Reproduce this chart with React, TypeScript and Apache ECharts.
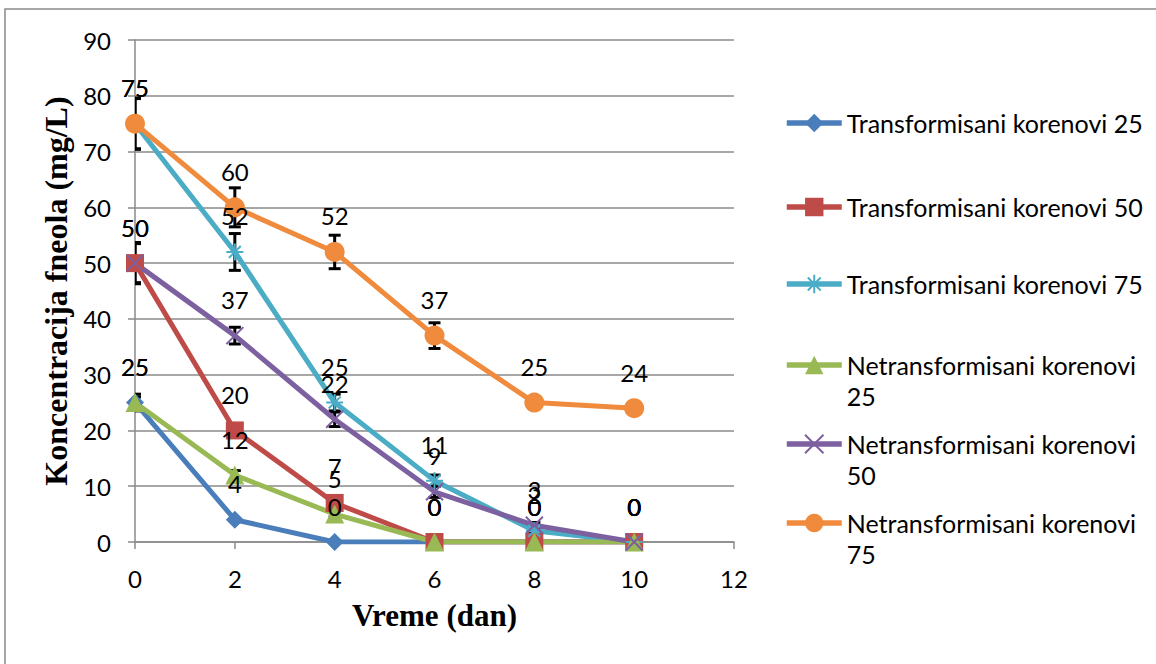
import React, { useEffect, useRef } from "react";
import * as echarts from "echarts";

const days = [0, 2, 4, 6, 8, 10];
const xTicks = [0, 2, 4, 6, 8, 10, 12];
const yTicks = [0, 10, 20, 30, 40, 50, 60, 70, 80, 90];

const seriesNames = [
  "Transformisani korenovi 25",
  "Transformisani korenovi 50",
  "Transformisani korenovi 75",
  "Netransformisani korenovi 25",
  "Netransformisani korenovi 50",
  "Netransformisani korenovi 75",
];

const tk25 = [25, 4, 0, 0, 0, 0];
const tk50 = [50, 20, 7, 0, 0, 0];
const tk75 = [75, 52, 25, 11, 2, 0];
const nk25 = [25, 12, 5, 0, 0, 0];
const nk50 = [50, 37, 22, 9, 3, 0];
const nk75 = [75, 60, 52, 37, 25, 24];

const tk25Err = [1.5, 0, 0, 0, 0, 0];
const tk50Err = [3.7, 0.8, 0.5, 0, 0, 0];
const tk75Err = [4.5, 3.3, 1.5, 1, 0.5, 0];
const nk25Err = [1, 0.8, 0.5, 0, 0, 0];
const nk50Err = [3.5, 1.5, 1.3, 1, 0.5, 0];
const nk75Err = [4.6, 3.5, 3, 2.3, 1, 0.5];

const allValues = [tk25, tk50, tk75, nk25, nk50, nk75];
const allErrors = [tk25Err, tk50Err, tk75Err, nk25Err, nk50Err, nk75Err];

const colors = ["#4A7EBB", "#BE4B48", "#4BACC6", "#98B954", "#7D60A0", "#F08A3C"];
const symbols = [
  "diamond",
  "rect",
  "path://M0,5L10,5M5,0L5,10M1.5,1.5L8.5,8.5M8.5,1.5L1.5,8.5",
  "triangle",
  "path://M0,0L10,10M10,0L0,10",
  "circle",
];
const symbolSizes = [18, 18, 17, 19, 17, 20];
const legendCenters = [123, 207, 284, 365, 444, 523];

const LABEL_FONT = "Lato, 'Noto Sans', sans-serif";
const TITLE_FONT = "'Liberation Serif', 'DejaVu Serif', serif";

export default function App() {
  const ref = useRef<HTMLDivElement>(null);

  useEffect(() => {
    if (!ref.current) return;
    const chart = echarts.init(ref.current, undefined, { renderer: "svg" });

    const lineSeries = allValues.map((vals, si) => ({
      name: seriesNames[si],
      type: "line",
      data: days.map((d, i) => [d, vals[i]]),
      symbol: symbols[si],
      symbolSize: symbolSizes[si],
      z: 3,
      lineStyle: { color: colors[si], width: 5 },
      itemStyle: {
        color: colors[si],
        borderColor: colors[si],
        borderWidth: si === 2 || si === 4 ? 2 : 0,
      },
      label: {
        show: true,
        position: "inside",
        offset: [0, -36],
        color: "#000",
        fontFamily: LABEL_FONT,
        fontSize: 24,
        formatter: (p: any) => String(p.value[1]),
      },
      emphasis: { disabled: true },
    }));

    const errData: number[][] = [];
    allValues.forEach((vals, si) => {
      vals.forEach((v, i) => {
        const e = allErrors[si][i];
        if (e > 0) errData.push([days[i], v - e, v + e]);
      });
    });

    const errorSeries = {
      name: "errors",
      type: "custom",
      z: 2,
      clip: true,
      data: errData,
      renderItem: (params: any, api: any) => {
        const x = api.value(0);
        const lo = api.value(1);
        const hi = api.value(2);
        const top = api.coord([x, hi]);
        const bot = api.coord([x, lo]);
        const hw = 6;
        const style = { stroke: "#000", lineWidth: 3 };
        return {
          type: "group",
          children: [
            { type: "line", shape: { x1: top[0], y1: top[1], x2: bot[0], y2: bot[1] }, style },
            { type: "line", shape: { x1: top[0] - hw, y1: top[1], x2: top[0] + hw, y2: top[1] }, style },
            { type: "line", shape: { x1: bot[0] - hw, y1: bot[1], x2: bot[0] + hw, y2: bot[1] }, style },
          ],
        };
      },
    };

    const legends = seriesNames.map((name, i) => {
      const twoLine = i >= 3;
      return {
        data: [name],
        left: 784,
        top: twoLine ? legendCenters[i] - 46.5 : legendCenters[i] - 15.5,
        orient: "vertical",
        itemWidth: 55,
        itemHeight: 23,
        selectedMode: false,
        padding: 0,
        lineStyle: { width: 5.5 },
        textStyle: {
          fontFamily: LABEL_FONT,
          fontSize: 25,
          color: "#000",
          lineHeight: 31,
        },
        formatter: (n: string) =>
          twoLine ? "\n" + n.replace(/ (\d+)$/, "\n$1") : n,
      };
    });

    chart.setOption({
      animation: false,
      backgroundColor: "#fff",
      grid: { left: 135, top: 40, width: 599, height: 502, containLabel: false },
      xAxis: {
        type: "value",
        min: xTicks[0],
        max: xTicks[xTicks.length - 1],
        interval: 2,
        name: "Vreme (dan)",
        nameLocation: "middle",
        nameGap: 58,
        nameTextStyle: { fontFamily: TITLE_FONT, fontWeight: "bold", fontSize: 31, color: "#000" },
        axisLine: { show: true, lineStyle: { color: "#8a8a8a", width: 1.5 } },
        axisTick: { show: true, length: 7, lineStyle: { color: "#8a8a8a", width: 1.5 } },
        axisLabel: { margin: 24, fontFamily: LABEL_FONT, fontSize: 24, color: "#000" },
        splitLine: { show: false },
      },
      yAxis: {
        type: "value",
        min: yTicks[0],
        max: yTicks[yTicks.length - 1],
        interval: 10,
        name: "Koncentracija fneola (mg/L)",
        nameLocation: "middle",
        nameGap: 56,
        nameTextStyle: { fontFamily: TITLE_FONT, fontWeight: "bold", fontSize: 32, color: "#000" },
        axisLine: { show: true, lineStyle: { color: "#8a8a8a", width: 1.5 } },
        axisTick: { show: true, length: 7, lineStyle: { color: "#8a8a8a", width: 1.5 } },
        axisLabel: { margin: 24, fontFamily: LABEL_FONT, fontSize: 24, color: "#000" },
        splitLine: { show: true, lineStyle: { color: "#8a8a8a", width: 1.5 } },
      },
      legend: legends,
      graphic: [
        {
          type: "rect",
          shape: { x: 5, y: 9, width: 1170, height: 700 },
          style: { fill: "none", stroke: "#8a8a8a", lineWidth: 1.5 },
          silent: true,
        },
      ],
      series: [errorSeries, ...lineSeries],
    });

    return () => chart.dispose();
  }, []);

  return (
    <div
      ref={ref}
      style={{ position: "fixed", left: 0, top: 0, width: 1156, height: 664, background: "#fff" }}
    />
  );
}
